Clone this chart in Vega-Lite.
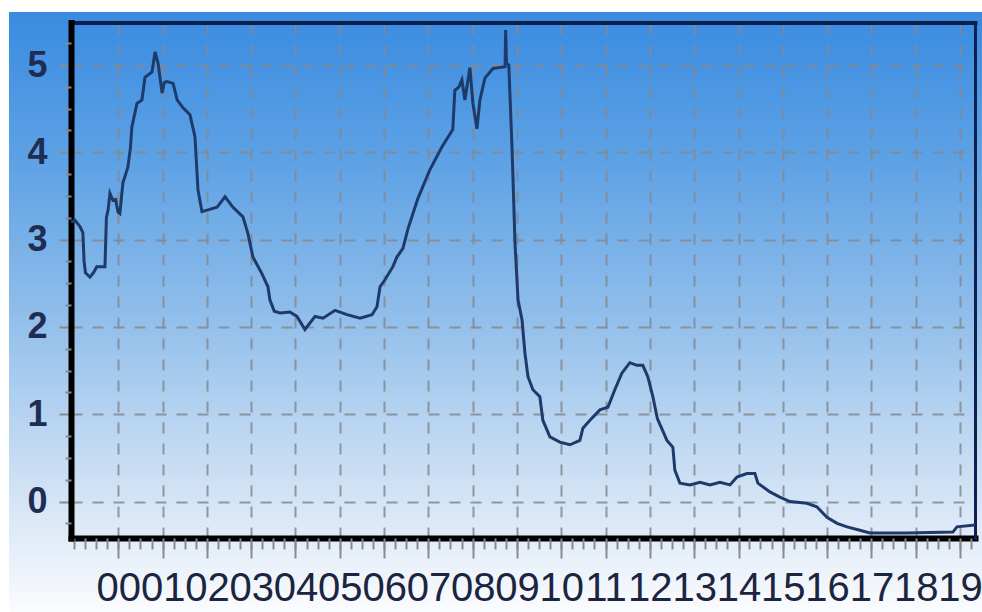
{
  "$schema": "https://vega.github.io/schema/vega-lite/v6.json",
  "width": 973,
  "height": 600,
  "autosize": {"type": "none"},
  "padding": {"left": 9, "top": 12, "right": 0, "bottom": 0},
  "background": "#ffffff",
  "config": {
    "view": {
      "stroke": null,
      "fill": {
        "gradient": "linear", "x1": 0, "y1": 0, "x2": 0, "y2": 1,
        "stops": [
          {"offset": 0, "color": "#3a8be0"},
          {"offset": 0.25, "color": "#5ea2e5"},
          {"offset": 0.5, "color": "#8fbdea"},
          {"offset": 0.72, "color": "#c0d9f2"},
          {"offset": 0.87, "color": "#e0ebf8"},
          {"offset": 1, "color": "#fbfcfe"}
        ]
      }
    }
  },
  "data": {
    "values": [
      {"date": "1998-12-07", "rate": 3.20},
      {"date": "1999-01-09", "rate": 3.22},
      {"date": "1999-02-19", "rate": 3.15},
      {"date": "1999-03-15", "rate": 3.08},
      {"date": "1999-03-25", "rate": 2.75},
      {"date": "1999-04-05", "rate": 2.62},
      {"date": "1999-05-12", "rate": 2.57},
      {"date": "1999-06-10", "rate": 2.62},
      {"date": "1999-07-08", "rate": 2.69},
      {"date": "1999-09-13", "rate": 2.69},
      {"date": "1999-09-25", "rate": 3.25},
      {"date": "1999-10-10", "rate": 3.35},
      {"date": "1999-10-24", "rate": 3.53},
      {"date": "1999-11-18", "rate": 3.45},
      {"date": "1999-12-10", "rate": 3.46},
      {"date": "1999-12-29", "rate": 3.32},
      {"date": "2000-01-14", "rate": 3.30},
      {"date": "2000-02-08", "rate": 3.65},
      {"date": "2000-03-20", "rate": 3.83},
      {"date": "2000-04-10", "rate": 4.05},
      {"date": "2000-04-22", "rate": 4.29},
      {"date": "2000-06-03", "rate": 4.56},
      {"date": "2000-07-14", "rate": 4.60},
      {"date": "2000-08-08", "rate": 4.86},
      {"date": "2000-10-05", "rate": 4.92},
      {"date": "2000-10-30", "rate": 5.15},
      {"date": "2000-11-24", "rate": 5.02},
      {"date": "2000-12-27", "rate": 4.68},
      {"date": "2001-01-15", "rate": 4.80},
      {"date": "2001-02-06", "rate": 4.81},
      {"date": "2001-03-28", "rate": 4.79},
      {"date": "2001-04-30", "rate": 4.60},
      {"date": "2001-06-18", "rate": 4.51},
      {"date": "2001-08-14", "rate": 4.43},
      {"date": "2001-09-24", "rate": 4.18},
      {"date": "2001-10-19", "rate": 3.57},
      {"date": "2001-11-21", "rate": 3.32},
      {"date": "2002-01-09", "rate": 3.34},
      {"date": "2002-03-25", "rate": 3.37},
      {"date": "2002-05-30", "rate": 3.49},
      {"date": "2002-08-04", "rate": 3.37},
      {"date": "2002-10-25", "rate": 3.26},
      {"date": "2002-12-05", "rate": 3.07},
      {"date": "2003-01-15", "rate": 2.80},
      {"date": "2003-03-30", "rate": 2.61},
      {"date": "2003-05-19", "rate": 2.46},
      {"date": "2003-06-04", "rate": 2.31},
      {"date": "2003-07-10", "rate": 2.18},
      {"date": "2003-08-26", "rate": 2.16},
      {"date": "2003-11-16", "rate": 2.17},
      {"date": "2004-01-13", "rate": 2.12},
      {"date": "2004-03-19", "rate": 1.97},
      {"date": "2004-06-10", "rate": 2.12},
      {"date": "2004-08-15", "rate": 2.10},
      {"date": "2004-11-22", "rate": 2.19},
      {"date": "2005-03-01", "rate": 2.14},
      {"date": "2005-06-16", "rate": 2.10},
      {"date": "2005-09-23", "rate": 2.14},
      {"date": "2005-11-03", "rate": 2.23},
      {"date": "2005-11-28", "rate": 2.46},
      {"date": "2006-01-08", "rate": 2.54},
      {"date": "2006-03-14", "rate": 2.69},
      {"date": "2006-04-16", "rate": 2.80},
      {"date": "2006-06-05", "rate": 2.90},
      {"date": "2006-07-16", "rate": 3.12},
      {"date": "2006-10-06", "rate": 3.47},
      {"date": "2007-01-13", "rate": 3.80},
      {"date": "2007-04-22", "rate": 4.06},
      {"date": "2007-07-21", "rate": 4.26},
      {"date": "2007-08-07", "rate": 4.71},
      {"date": "2007-09-10", "rate": 4.75},
      {"date": "2007-10-04", "rate": 4.83},
      {"date": "2007-10-29", "rate": 4.60},
      {"date": "2007-12-09", "rate": 4.97},
      {"date": "2008-01-03", "rate": 4.56},
      {"date": "2008-02-05", "rate": 4.27},
      {"date": "2008-03-01", "rate": 4.60},
      {"date": "2008-04-11", "rate": 4.85},
      {"date": "2008-06-16", "rate": 4.96},
      {"date": "2008-09-24", "rate": 4.98},
      {"date": "2008-09-29", "rate": 5.40},
      {"date": "2008-10-06", "rate": 5.02},
      {"date": "2008-10-25", "rate": 5.00},
      {"date": "2008-11-21", "rate": 4.03},
      {"date": "2008-12-15", "rate": 2.96},
      {"date": "2009-01-09", "rate": 2.31},
      {"date": "2009-02-11", "rate": 2.08},
      {"date": "2009-03-07", "rate": 1.70},
      {"date": "2009-04-01", "rate": 1.43},
      {"date": "2009-05-12", "rate": 1.28},
      {"date": "2009-07-08", "rate": 1.20},
      {"date": "2009-08-02", "rate": 0.93},
      {"date": "2009-09-29", "rate": 0.74},
      {"date": "2009-12-20", "rate": 0.68},
      {"date": "2010-03-13", "rate": 0.65},
      {"date": "2010-06-03", "rate": 0.70},
      {"date": "2010-06-28", "rate": 0.84},
      {"date": "2010-08-25", "rate": 0.93},
      {"date": "2010-11-15", "rate": 1.05},
      {"date": "2011-01-20", "rate": 1.08},
      {"date": "2011-03-18", "rate": 1.28},
      {"date": "2011-05-15", "rate": 1.47},
      {"date": "2011-07-20", "rate": 1.59},
      {"date": "2011-09-16", "rate": 1.56},
      {"date": "2011-11-04", "rate": 1.56},
      {"date": "2011-12-15", "rate": 1.43},
      {"date": "2012-01-26", "rate": 1.20},
      {"date": "2012-03-03", "rate": 0.95},
      {"date": "2012-05-21", "rate": 0.70},
      {"date": "2012-07-09", "rate": 0.62},
      {"date": "2012-07-25", "rate": 0.36},
      {"date": "2012-09-05", "rate": 0.21},
      {"date": "2012-11-27", "rate": 0.19},
      {"date": "2013-02-17", "rate": 0.22},
      {"date": "2013-05-11", "rate": 0.19},
      {"date": "2013-08-01", "rate": 0.22},
      {"date": "2013-10-23", "rate": 0.19},
      {"date": "2013-12-19", "rate": 0.28},
      {"date": "2014-03-11", "rate": 0.32},
      {"date": "2014-05-16", "rate": 0.32},
      {"date": "2014-06-10", "rate": 0.21},
      {"date": "2014-09-17", "rate": 0.11},
      {"date": "2014-12-08", "rate": 0.05},
      {"date": "2015-03-01", "rate": 0.00},
      {"date": "2015-07-19", "rate": -0.02},
      {"date": "2015-10-09", "rate": -0.06},
      {"date": "2015-12-31", "rate": -0.18},
      {"date": "2016-03-24", "rate": -0.25},
      {"date": "2016-06-14", "rate": -0.29},
      {"date": "2016-09-28", "rate": -0.33},
      {"date": "2016-12-19", "rate": -0.36},
      {"date": "2017-10-21", "rate": -0.36},
      {"date": "2018-11-04", "rate": -0.35},
      {"date": "2018-12-07", "rate": -0.29},
      {"date": "2019-05-05", "rate": -0.27}
    ]
  },
  "resolve": {"axis": {"x": "independent", "y": "independent"}},
  "layer": [
    {
      "mark": {"type": "line", "color": "#1e3a6a", "strokeWidth": 3},
      "encoding": {
        "x": {
          "field": "date", "type": "temporal",
          "scale": {
            "type": "utc",
            "domain": [{"year": 1998, "month": 12, "date": 7, "utc": true}, {"year": 2019, "month": 5, "date": 5, "utc": true}],
            "range": [62, 966]
          },
          "axis": {
            "orient": "bottom", "offset": -74, "title": null,
            "labelExpr": "utcFormat(datum.value, '%y')",
            "values": [
              {"year": 2000, "month": 1, "date": 1, "utc": true}, {"year": 2001, "month": 1, "date": 1, "utc": true},
              {"year": 2002, "month": 1, "date": 1, "utc": true}, {"year": 2003, "month": 1, "date": 1, "utc": true},
              {"year": 2004, "month": 1, "date": 1, "utc": true}, {"year": 2005, "month": 1, "date": 1, "utc": true},
              {"year": 2006, "month": 1, "date": 1, "utc": true}, {"year": 2007, "month": 1, "date": 1, "utc": true},
              {"year": 2008, "month": 1, "date": 1, "utc": true}, {"year": 2009, "month": 1, "date": 1, "utc": true},
              {"year": 2010, "month": 1, "date": 1, "utc": true}, {"year": 2011, "month": 1, "date": 1, "utc": true},
              {"year": 2012, "month": 1, "date": 1, "utc": true}, {"year": 2013, "month": 1, "date": 1, "utc": true},
              {"year": 2014, "month": 1, "date": 1, "utc": true}, {"year": 2015, "month": 1, "date": 1, "utc": true},
              {"year": 2016, "month": 1, "date": 1, "utc": true}, {"year": 2017, "month": 1, "date": 1, "utc": true},
              {"year": 2018, "month": 1, "date": 1, "utc": true}, {"year": 2019, "month": 1, "date": 1, "utc": true}
            ],
            "grid": false,
            "domain": true, "domainColor": "#000000", "domainWidth": 6, "domainCap": "square",
            "ticks": true, "tickColor": "#8a8a8a", "tickSize": 20, "tickWidth": 2,
            "labelFont": "Liberation Sans Narrow, Arial Narrow, Liberation Sans, sans-serif",
            "labelFontSize": 40, "labelColor": "#1c2540", "labelPadding": 10,
            "labelOverlap": false, "labelFlush": false, "labelBound": false
          }
        },
        "y": {
          "field": "rate", "type": "quantitative",
          "scale": {"domain": [-0.418, 5.487], "range": [526, 10.5], "nice": false, "zero": false},
          "axis": {
            "orient": "left", "offset": -62, "title": null,
            "values": [0, 1, 2, 3, 4, 5],
            "grid": true, "gridColor": "#858a90", "gridDash": [11, 10], "gridWidth": 2, "gridOpacity": 0.85,
            "domain": true, "domainColor": "#000000", "domainWidth": 6, "domainCap": "square",
            "ticks": true, "tickColor": "#8a8a8a", "tickSize": 12, "tickWidth": 2,
            "labelFont": "Liberation Sans, Arial, sans-serif", "labelFontWeight": "bold",
            "labelFontSize": 36, "labelColor": "#1f2d52", "labelPadding": 12,
            "labelOverlap": false, "labelFlush": false, "labelBound": false
          }
        }
      }
    },
    {
      "mark": {"type": "line", "opacity": 0},
      "encoding": {
        "x": {
          "field": "date", "type": "temporal",
          "axis": {
            "orient": "bottom", "offset": -74, "title": null, "labels": false, "domain": false, "grid": false,
            "tickCount": {"interval": "month", "step": 3},
            "ticks": true, "tickColor": "#8a8a8a", "tickSize": 11, "tickWidth": 2
          }
        },
        "y": {
          "field": "rate", "type": "quantitative",
          "axis": {
            "orient": "left", "offset": -62, "title": null, "labels": false, "domain": false, "grid": false,
            "values": [-0.25, 0.25, 0.5, 0.75, 1.25, 1.5, 1.75, 2.25, 2.5, 2.75, 3.25, 3.5, 3.75, 4.25, 4.5, 4.75, 5.25],
            "ticks": true, "tickColor": "#8a8a8a", "tickSize": 6, "tickWidth": 2
          }
        }
      }
    },
    {
      "mark": {"type": "line", "opacity": 0},
      "encoding": {
        "x": {
          "field": "date", "type": "temporal",
          "axis": {
            "orient": "top", "offset": -10.5, "title": null, "labels": false, "ticks": false,
            "values": [
              {"year": 2000, "month": 1, "date": 1, "utc": true}, {"year": 2001, "month": 1, "date": 1, "utc": true},
              {"year": 2002, "month": 1, "date": 1, "utc": true}, {"year": 2003, "month": 1, "date": 1, "utc": true},
              {"year": 2004, "month": 1, "date": 1, "utc": true}, {"year": 2005, "month": 1, "date": 1, "utc": true},
              {"year": 2006, "month": 1, "date": 1, "utc": true}, {"year": 2007, "month": 1, "date": 1, "utc": true},
              {"year": 2008, "month": 1, "date": 1, "utc": true}, {"year": 2009, "month": 1, "date": 1, "utc": true},
              {"year": 2010, "month": 1, "date": 1, "utc": true}, {"year": 2011, "month": 1, "date": 1, "utc": true},
              {"year": 2012, "month": 1, "date": 1, "utc": true}, {"year": 2013, "month": 1, "date": 1, "utc": true},
              {"year": 2014, "month": 1, "date": 1, "utc": true}, {"year": 2015, "month": 1, "date": 1, "utc": true},
              {"year": 2016, "month": 1, "date": 1, "utc": true}, {"year": 2017, "month": 1, "date": 1, "utc": true},
              {"year": 2018, "month": 1, "date": 1, "utc": true}, {"year": 2019, "month": 1, "date": 1, "utc": true}
            ],
            "grid": true, "gridColor": "#858a90", "gridDash": [11, 10], "gridWidth": 2, "gridOpacity": 0.85,
            "domain": true, "domainColor": "#0d1f4f", "domainWidth": 4, "domainCap": "square"
          }
        },
        "y": {
          "field": "rate", "type": "quantitative",
          "axis": {
            "orient": "right", "offset": -7, "title": null, "labels": false, "ticks": false, "grid": false,
            "domain": true, "domainColor": "#0d1f4f", "domainWidth": 3, "domainCap": "square"
          }
        }
      }
    }
  ]
}
